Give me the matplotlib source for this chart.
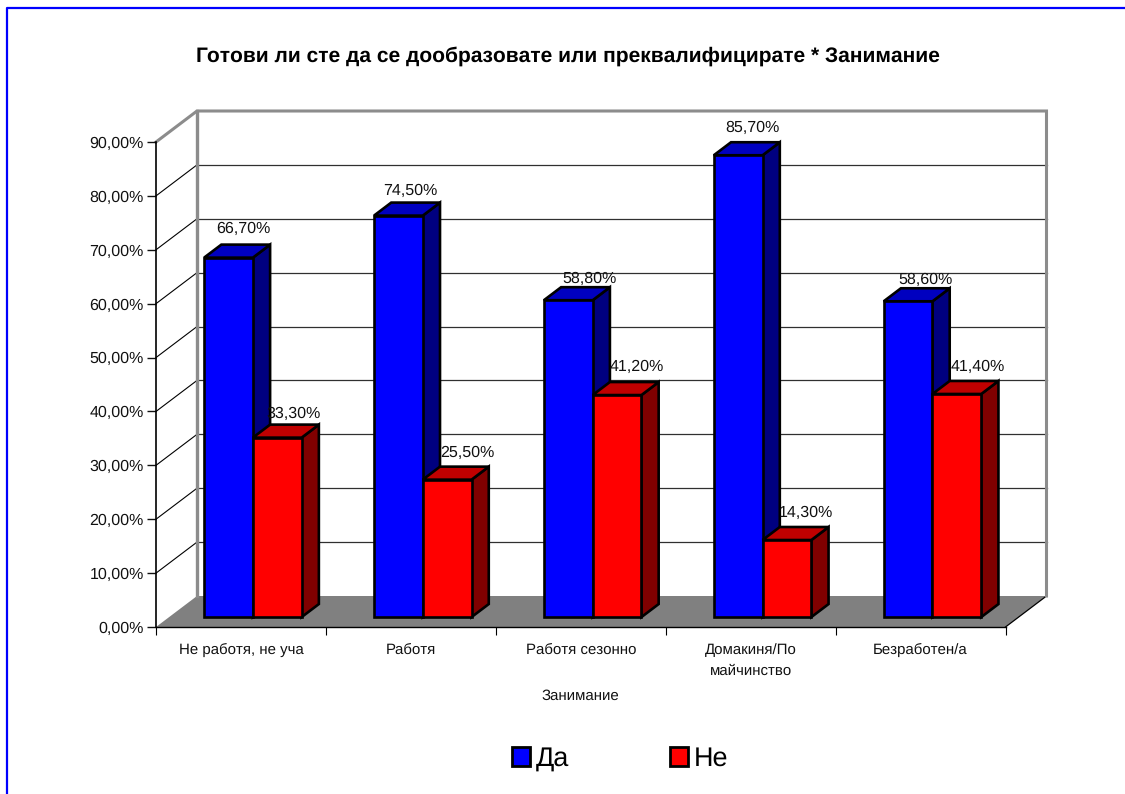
import matplotlib
matplotlib.use('Agg')
import matplotlib.pyplot as plt
from matplotlib.lines import Line2D
from matplotlib.patches import Patch, Polygon, Rectangle

plt.rcParams['font.family'] = ['Liberation Sans', 'DejaVu Sans']
plt.rcParams['text.hinting'] = 'no_hinting'
plt.rcParams['text.hinting_factor'] = 1

categories = ['Не работя, не уча', 'Работя', 'Работя сезонно', 'Домакиня/По\nмайчинство', 'Безработен/а']
da_values = [66.7, 74.5, 58.8, 85.7, 58.6]
ne_values = [33.3, 25.5, 41.2, 14.3, 41.4]
series_names = ['Да', 'Не']
y_ticks = [0, 10, 20, 30, 40, 50, 60, 70, 80, 90]

W, H = 1125, 794
LEFT, RIGHT, BASE, TOP = 156, 1005.5, 627, 142

# depth of the box in data units, back wall sits 41px right and 31px up
DEPTH_X = 41 / ((RIGHT - LEFT) / 5)
DEPTH_Y = 31 / ((BASE - TOP) / 90)
BAR_W = 0.287
BAR_SHIFT = -0.007
Z0, Z1 = 0.32, 0.74

# hand nudges (px) of the data labels from the back top edge of each bar
da_nudge = [(-2, 15.5), (-5.5, 11.5), (3.5, 8.5), (-3, 14.5), (0.5, 8.5)]
ne_nudge = [(-0.5, 11), (2.5, 13.5), (2, 15.5), (2, 14.5), (4, 14.5)]


def proj(x, y, z):
    return (x + z * DEPTH_X, y + z * DEPTH_Y)


def draw_bar(ax, left, value, front, top_col, side_col, z):
    edge = dict(edgecolor='black', linewidth=1.9, joinstyle='miter', clip_on=False, zorder=z)
    right = left + BAR_W
    ax.add_patch(Polygon([proj(right, 0, Z0), proj(right, 0, Z1), proj(right, value, Z1), proj(right, value, Z0)],
                         facecolor=side_col, **edge))
    ax.add_patch(Polygon([proj(left, value, Z0), proj(right, value, Z0), proj(right, value, Z1), proj(left, value, Z1)],
                         facecolor=top_col, **edge))
    x0, y0 = proj(left, 0, Z0)
    ax.add_patch(Rectangle((x0, y0), BAR_W, value, facecolor=front, **edge))


fig = plt.figure(figsize=(W / 100, H / 100), dpi=100)
ax = fig.add_axes([LEFT / W, 1 - BASE / H, (RIGHT - LEFT) / W, (BASE - TOP) / H])
ax.set_xlim(0, 5)
ax.set_ylim(0, 90)
ax.patch.set_visible(False)

# outer chart border, only top and left are visible
fig.add_artist(Line2D([6.5 / W, 6.5 / W, 1], [0, 1 - 7.5 / H, 1 - 7.5 / H], color='#0000ff', lw=1.6))

# floor
ax.add_patch(Polygon([proj(0, 0, 0), proj(5, 0, 0), proj(5, 0, 1), proj(0, 0, 1)],
                     facecolor='#808080', edgecolor='none', clip_on=False, zorder=1))
ax.plot([5, proj(5, 0, 1)[0]], [0, DEPTH_Y], color='black', lw=0.9, clip_on=False, zorder=1.2)

# grid on side wall and back wall
for t in y_ticks[1:-1]:
    bx, by = proj(0, t, 1)
    ex, _ = proj(5, t, 1)
    ax.plot([0, bx], [t, by], color='black', lw=0.8, clip_on=False, zorder=1.1)
    ax.plot([bx, ex], [by, by], color='#303030', lw=0.9, clip_on=False, zorder=1.1)

# wall frame
wall = [proj(0, 90, 0), proj(0, 90, 1), proj(5, 90, 1), proj(5, 0, 1)]
ax.plot([p[0] for p in wall], [p[1] for p in wall], color='#8c8c8c', lw=2.2, clip_on=False,
        solid_joinstyle='miter', zorder=1.3)
ax.plot([DEPTH_X, DEPTH_X], [90 + DEPTH_Y, DEPTH_Y], color='#8c8c8c', lw=2.4, clip_on=False, zorder=1.3)

for i in range(len(categories)):
    c = i + 0.5 + BAR_SHIFT
    z = 3 + i
    draw_bar(ax, c - BAR_W, da_values[i], '#0000ff', '#0000c0', '#000080', z)
    draw_bar(ax, c, ne_values[i], '#ff0000', '#c00000', '#800000', z + 0.5)

    for left, val, nudge in ((c - BAR_W, da_values[i], da_nudge[i]), (c, ne_values[i], ne_nudge[i])):
        ax.annotate(('%.2f%%' % val).replace('.', ','), xy=proj(left + BAR_W / 2, val, Z1),
                    xytext=(nudge[0] * 0.72, nudge[1] * 0.72), textcoords='offset points',
                    ha='center', va='center', fontsize=11.3, color='#111111', annotation_clip=False, zorder=20)

for side in ('top', 'right'):
    ax.spines[side].set_visible(False)
ax.spines['left'].set_linewidth(1.2)
ax.spines['bottom'].set_linewidth(1.0)

ax.set_yticks(y_ticks)
ax.set_yticklabels(['%d,00%%' % t for t in y_ticks], fontsize=11.2)
ax.tick_params(axis='y', length=6.5, width=1.0, pad=2.4, colors='#111111')
ax.set_xticks(range(6))
ax.set_xticklabels([])
ax.tick_params(axis='x', which='major', length=5.8, width=0.8)
ax.set_xticks([i + 0.5 for i in range(5)], minor=True)
ax.set_xticklabels(categories, minor=True, fontsize=11.0, linespacing=1.66)
ax.tick_params(axis='x', which='minor', length=0, pad=11.5, colors='#111111')
ax.set_xlabel('Занимание', fontsize=11.0, color='#111111', labelpad=7.5)

fig.suptitle('Готови ли сте да се дообразовате или преквалифицирате * Занимание',
             x=568 / W, y=1 - 56 / H, va='center', fontsize=15.4, fontweight='bold')

handles = [Patch(facecolor='#0000ff', edgecolor='black', linewidth=2.0),
           Patch(facecolor='#ff0000', edgecolor='black', linewidth=2.0)]
fig.legend(handles, series_names, ncol=2, frameon=False, loc='center', bbox_to_anchor=(620 / W, 1 - 759 / H),
           fontsize=19.5, handlelength=0.66, handleheight=0.66, handletextpad=0.2, columnspacing=3.75,
           borderpad=0, borderaxespad=0)

fig.savefig('out.png', dpi=100)
